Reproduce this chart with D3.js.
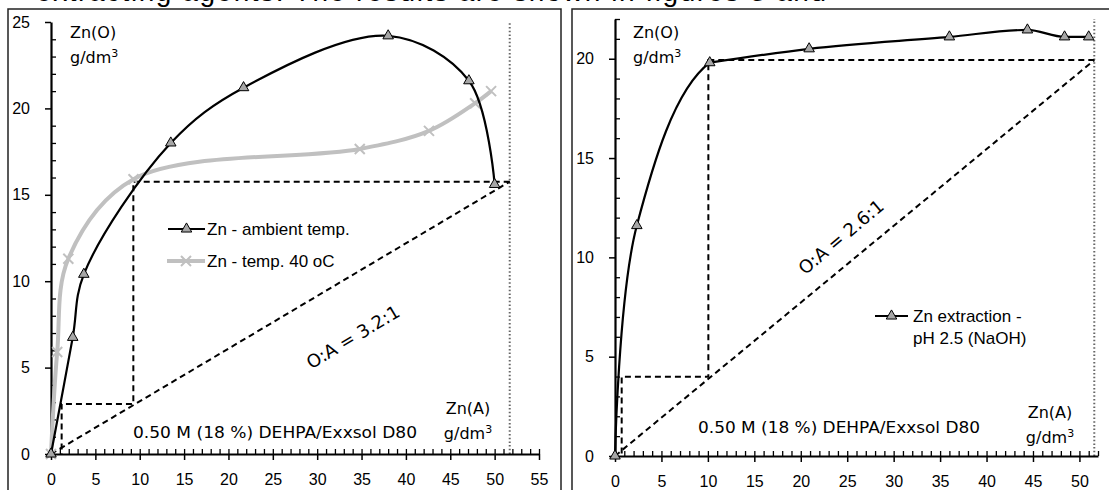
<!DOCTYPE html>
<html>
<head>
<meta charset="utf-8">
<script src="https://cdn.jsdelivr.net/npm/d3@7"></script>
<style>
  html, body { margin: 0; padding: 0; background: #fff; }
  svg { display: block; }
  .tick text { font-family: "Liberation Sans", Arial, sans-serif; font-size: 16px; fill: #000; }
  .hand { font-family: "DejaVu Sans", sans-serif; fill: #000; }
  .leg { font-family: "Liberation Sans", Arial, sans-serif; font-size: 17px; fill: #000; }
</style>
</head>
<body>
<svg id="chart" width="1109" height="490"></svg>
<script>
// ---- Left panel: Zn isotherms at two temperatures ----
const ambientX = [0, 2.45, 3.7, 13.5, 21.7, 38.0, 47.1, 50.0];
const ambientY = [0, 6.75, 10.4, 18.0, 21.2, 24.2, 21.6, 15.6];
const hot40X   = [0, 0.7, 1.95, 9.3, 34.8, 42.6, 47.8, 49.6];
const hot40Y   = [0, 5.9, 11.3, 15.9, 17.65, 18.7, 20.3, 21.0];
// McCabe-Thiele construction (left)
const stepLX = [51.7, 9.28, 9.28, 1.2, 1.2];
const stepLY = [15.76, 15.76, 2.9, 2.9, 0];
const opLineLX = [0, 51.7];
const opLineLY = [0, 15.76];
const feedLX = 51.7;

// ---- Right panel: Zn extraction at pH 2.5 ----
const naohX = [0, 2.35, 10.2, 20.9, 36.0, 44.4, 48.4, 51.0];
const naohY = [0, 11.6, 19.8, 20.5, 21.1, 21.45, 21.1, 21.1];
const stepRX = [51.6, 10.05, 10.05, 0.72, 0.72];
const stepRY = [19.93, 19.93, 3.99, 3.99, 0];
const opLineRX = [0, 51.6];
const opLineRY = [0, 19.93];
const feedRX = 51.6;

// tick values
const leftXTicks  = [0, 5, 10, 15, 20, 25, 30, 35, 40, 45, 50, 55];
const leftYTicks  = [0, 5, 10, 15, 20, 25];
const rightXTicks = [0, 5, 10, 15, 20, 25, 30, 35, 40, 45, 50];
const rightYTicks = [0, 5, 10, 15, 20];

const legendLeft  = ["Zn - ambient temp.", "Zn - temp. 40 oC"];
const legendRight = ["Zn extraction -", "pH 2.5 (NaOH)"];
const solventText = "0.50 M (18 %) DEHPA/Exxsol D80";

const svg = d3.select("#chart");

// running text of the page above the figure
svg.append("text")
  .attr("x", 36).attr("y", 1)
  .attr("textLength", 790).attr("lengthAdjust", "spacing")
  .style("font-family", "Liberation Sans, Arial, sans-serif")
  .style("font-size", "28px")
  .text("extracting agents. The results are shown in figures 3 and");

// panel frames
svg.append("rect").attr("x", 8).attr("y", 9).attr("width", 553).attr("height", 500)
  .attr("fill", "none").attr("stroke", "#222").attr("stroke-width", 1.5);
svg.append("rect").attr("x", 572).attr("y", 9).attr("width", 560).attr("height", 500)
  .attr("fill", "none").attr("stroke", "#222").attr("stroke-width", 1.5);

const zip = (xs, ys) => xs.map((x, i) => [x, ys[i]]);
const tri = d3.symbol().type(d3.symbolTriangle).size(48);

function drawAxes(g, x, y, xMajor, yMajor, xMaxMinor, yMaxMinor) {
  const xMinor = d3.range(0, xMaxMinor + 1);
  const yMinor = d3.range(0, yMaxMinor + 1).filter(v => v % 5 !== 0);
  // minor ticks point inward
  g.append("g").attr("transform", `translate(0,${y(0)})`)
    .call(d3.axisBottom(x).tickValues(xMinor).tickSize(-5).tickSizeOuter(0).tickFormat(""))
    .call(s => s.select(".domain").remove())
    .selectAll("line").attr("stroke-width", 1.3);
  g.append("g").attr("transform", `translate(${x(0)},0)`)
    .call(d3.axisLeft(y).tickValues(yMinor).tickSize(-5).tickSizeOuter(0).tickFormat(""))
    .call(s => s.select(".domain").remove())
    .selectAll("line").attr("stroke-width", 1.3);
  // major ticks point outward with labels
  const gx = g.append("g").attr("transform", `translate(0,${y(0)})`)
    .call(d3.axisBottom(x).tickValues(xMajor).tickSize(6).tickSizeOuter(0).tickPadding(14));
  gx.select(".domain").attr("stroke-width", 2.2);
  gx.selectAll(".tick line").attr("stroke-width", 1.5);
  const gy = g.append("g").attr("transform", `translate(${x(0)},0)`)
    .call(d3.axisLeft(y).tickValues(yMajor).tickSize(6).tickSizeOuter(0).tickPadding(15));
  gy.select(".domain").attr("stroke-width", 2.2);
  gy.selectAll(".tick line").attr("stroke-width", 1.5);
}

function dashed(g, pts, x, y) {
  g.append("path")
    .attr("d", d3.line().x(d => x(d[0])).y(d => y(d[1]))(pts))
    .attr("fill", "none").attr("stroke", "#000")
    .attr("stroke-width", 2).attr("stroke-dasharray", "6,4");
}

function dotted(g, xv, x, y, top) {
  g.append("line")
    .attr("x1", x(xv)).attr("x2", x(xv))
    .attr("y1", y(0)).attr("y2", y(top))
    .attr("stroke", "#666").attr("stroke-width", 2).attr("stroke-dasharray", "1.5,2.2");
}

function unitLabels(g, ox, oy, ax, ay) {
  const t1 = g.append("text").attr("class", "hand").attr("x", ox).attr("y", oy)
    .style("font-size", "16px");
  t1.append("tspan").text("Zn(O)");
  const t2 = g.append("text").attr("class", "hand").attr("x", ox).attr("y", oy + 25)
    .style("font-size", "16px");
  t2.append("tspan").text("g/dm");
  t2.append("tspan").attr("dy", -6).style("font-size", "11px").text("3");
  const t3 = g.append("text").attr("class", "hand").attr("x", ax).attr("y", ay)
    .attr("text-anchor", "middle").style("font-size", "16px").text("Zn(A)");
  const t4 = g.append("text").attr("class", "hand").attr("x", ax).attr("y", ay + 25)
    .attr("text-anchor", "middle").style("font-size", "16px");
  t4.append("tspan").text("g/dm");
  t4.append("tspan").attr("dy", -6).style("font-size", "11px").text("3");
}

function xMark(g, cx, cy, color) {
  const r = 5;
  g.append("path")
    .attr("d", `M${cx - r},${cy - r}L${cx + r},${cy + r}M${cx - r},${cy + r}L${cx + r},${cy - r}`)
    .attr("stroke", color).attr("stroke-width", 2).attr("fill", "none");
}

// ================= LEFT =================
{
  const x = d3.scaleLinear().domain([0, 55]).range([51, 539]);
  const y = d3.scaleLinear().domain([0, 25]).range([454, 22]);
  const g = svg.append("g");

  dotted(g, feedLX, x, y, 25);
  dashed(g, zip(opLineLX, opLineLY), x, y);
  dashed(g, zip(stepLX, stepLY), x, y);

  drawAxes(g, x, y, leftXTicks, leftYTicks, 55, 25);

  const line = d3.line().x(d => x(d[0])).y(d => y(d[1])).curve(d3.curveCatmullRom.alpha(0.5));
  const hot = zip(hot40X, hot40Y);
  g.append("path").attr("d", line(hot)).attr("fill", "none")
    .attr("stroke", "#c0c0c0").attr("stroke-width", 4);
  hot.forEach(d => xMark(g, x(d[0]), y(d[1]), "#c0c0c0"));

  const amb = zip(ambientX, ambientY);
  g.append("path").attr("d", line(amb)).attr("fill", "none")
    .attr("stroke", "#000").attr("stroke-width", 2.2);
  g.selectAll(".triL").data(amb).join("path")
    .attr("d", tri).attr("transform", d => `translate(${x(d[0])},${y(d[1])})`)
    .attr("fill", "#a6a6a6").attr("stroke", "#000").attr("stroke-width", 1);

  // legend
  g.append("line").attr("x1", 168).attr("x2", 205).attr("y1", 229).attr("y2", 229)
    .attr("stroke", "#000").attr("stroke-width", 2.2);
  g.append("path").attr("d", tri).attr("transform", "translate(186.5,229)")
    .attr("fill", "#a6a6a6").attr("stroke", "#000").attr("stroke-width", 1);
  g.append("text").attr("class", "leg").attr("x", 207).attr("y", 235).text(legendLeft[0]);
  g.append("line").attr("x1", 167).attr("x2", 205).attr("y1", 261).attr("y2", 261)
    .attr("stroke", "#c0c0c0").attr("stroke-width", 4);
  xMark(g, 186, 261, "#c0c0c0");
  g.append("text").attr("class", "leg").attr("x", 207).attr("y", 267).text(legendLeft[1]);

  // annotations
  g.append("text").attr("class", "hand")
    .attr("transform", "translate(353,337) rotate(-31)")
    .attr("text-anchor", "middle").attr("dy", "0.35em")
    .style("font-size", "18px").text("O:A = 3.2:1");
  g.append("text").attr("class", "hand").attr("x", 133).attr("y", 438)
    .attr("textLength", 284).attr("lengthAdjust", "spacingAndGlyphs")
    .style("font-size", "16px").text(solventText);
  unitLabels(g, 70, 38, 468, 414);
}

// ================= RIGHT =================
{
  const x = d3.scaleLinear().domain([0, 52]).range([615, 1098]);
  const y = d3.scaleLinear().domain([0, 22]).range([456, 19]);
  const g = svg.append("g");

  dotted(g, feedRX, x, y, 22);
  dashed(g, zip(opLineRX, opLineRY), x, y);
  dashed(g, zip(stepRX, stepRY), x, y);

  drawAxes(g, x, y, rightXTicks, rightYTicks, 52, 22);

  // rising branch: Catmull-Rom segments up to the knee point (index 2);
  // plateau: monotone spline from the knee onward
  const pts = zip(naohX, naohY);
  const knee = 2;
  const rise = d3.line().x(d => x(d[0])).y(d => y(d[1])).curve(d3.curveCatmullRom.alpha(0.5));
  const flat = d3.line().x(d => x(d[0])).y(d => y(d[1])).curve(d3.curveMonotoneX);
  const risePath = rise(pts).split("C").slice(0, knee + 1).join("C");
  g.append("path").attr("d", risePath + flat(pts.slice(knee)).replace(/^M/, "L"))
    .attr("fill", "none").attr("stroke", "#000").attr("stroke-width", 2.2)
    .attr("stroke-linejoin", "round");
  g.selectAll(".triR").data(pts).join("path")
    .attr("d", tri).attr("transform", d => `translate(${x(d[0])},${y(d[1])})`)
    .attr("fill", "#a6a6a6").attr("stroke", "#000").attr("stroke-width", 1);

  // legend
  g.append("line").attr("x1", 875).attr("x2", 908).attr("y1", 316).attr("y2", 316)
    .attr("stroke", "#000").attr("stroke-width", 2.2);
  g.append("path").attr("d", tri).attr("transform", "translate(891.5,316)")
    .attr("fill", "#a6a6a6").attr("stroke", "#000").attr("stroke-width", 1);
  g.append("text").attr("class", "leg").attr("x", 913).attr("y", 322).text(legendRight[0]);
  g.append("text").attr("class", "leg").attr("x", 913).attr("y", 344).text(legendRight[1]);

  // annotations
  g.append("text").attr("class", "hand")
    .attr("transform", "translate(841,237) rotate(-40)")
    .attr("text-anchor", "middle").attr("dy", "0.35em")
    .style("font-size", "18px").text("O:A = 2.6:1");
  g.append("text").attr("class", "hand").attr("x", 698).attr("y", 433)
    .attr("textLength", 282).attr("lengthAdjust", "spacingAndGlyphs")
    .style("font-size", "16px").text(solventText);
  unitLabels(g, 633, 38, 1050, 418);
}
</script>
</body>
</html>
